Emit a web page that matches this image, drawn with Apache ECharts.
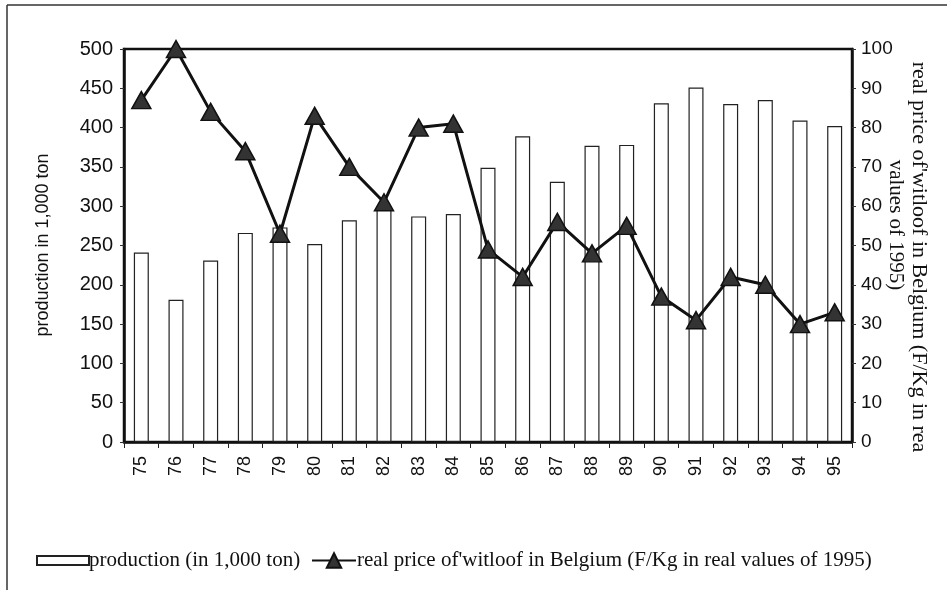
<!DOCTYPE html>
<html>
<head>
<meta charset="utf-8">
<script src="https://cdn.jsdelivr.net/npm/echarts@6/dist/echarts.min.js"></script>
<style>
html,body{margin:0;padding:0;background:#fff;}
#chart{width:947px;height:590px;}
</style>
</head>
<body>
<div id="chart"></div>
<script>
const years = ['75','76','77','78','79','80','81','82','83','84','85','86','87','88','89','90','91','92','93','94','95'];
const production = [241,181,231,266,273,252,282,298,287,290,349,389,331,377,378,431,451,430,435,409,402];
const price = [87,100,84,74,53,83,70,61,80,81,49,42,56,48,55,37,31,42,40,30,33];
const leftTicks = [0,50,100,150,200,250,300,350,400,450,500];
const rightTicks = [0,10,20,30,40,50,60,70,80,90,100];

const chart = echarts.init(document.getElementById('chart'), null, {renderer:'canvas'});
const sans = 'Liberation Sans, Arial, sans-serif';
const serif = 'Liberation Serif, Times New Roman, serif';
const barName = 'production (in 1,000 ton)';
const lineName = 'real price of\'witloof in Belgium (F/Kg in real values of 1995)';

chart.setOption({
  animation:false,
  backgroundColor:'#fff',
  grid:{left:124,right:95,top:49,bottom:148,show:true,borderColor:'#111',borderWidth:2.5,backgroundColor:'transparent'},
  legend:[
    {data:[{name:barName,icon:'rect'}],left:31,top:545,itemWidth:52,itemHeight:9,itemGap:0,
     textStyle:{fontFamily:serif,fontSize:21,color:'#111',padding:[0,0,0,-5]}},
    {data:[lineName],left:306,top:545,itemWidth:44,itemHeight:18,
     textStyle:{fontFamily:serif,fontSize:21,color:'#111',padding:[0,0,0,-4]}}
  ],
  xAxis:{type:'category',data:years,boundaryGap:true,
    axisLine:{lineStyle:{color:'#111',width:2.5}},
    axisTick:{show:true,length:6,lineStyle:{color:'#222',width:1}},
    axisLabel:{rotate:90,fontFamily:sans,fontSize:18,color:'#111',margin:14}},
  yAxis:[
    {type:'value',min:0,max:500,interval:50,position:'left',
     axisLine:{show:true,lineStyle:{color:'#111',width:2.5}},
     axisTick:{show:true,length:4,lineStyle:{color:'#333'}},
     splitLine:{show:false},
     axisLabel:{fontFamily:sans,fontSize:20,color:'#111',margin:11}},
    {type:'value',min:0,max:100,interval:10,position:'right',
     axisLine:{show:true,lineStyle:{color:'#111',width:2.5}},
     axisTick:{show:true,length:4,lineStyle:{color:'#333'}},
     splitLine:{show:false},
     axisLabel:{fontFamily:sans,fontSize:19,color:'#111',margin:9}}
  ],
  series:[
    {name:barName,type:'bar',data:production,yAxisIndex:0,barWidth:15,
     itemStyle:{color:'#fff',borderColor:'#222',borderWidth:1.2}},
    {name:lineName,type:'line',data:price,yAxisIndex:1,
     symbol:'triangle',symbolSize:[19,17],
     lineStyle:{color:'#111',width:3},
     itemStyle:{color:'#333',borderColor:'#111',borderWidth:1.5}}
  ],
  graphic:[
    {type:'line',shape:{x1:7,y1:5,x2:947,y2:5},style:{stroke:'#333',lineWidth:1.5}},
    {type:'line',shape:{x1:7,y1:5,x2:7,y2:590},style:{stroke:'#333',lineWidth:1.5}},
    {type:'text',x:43,y:245,rotation:Math.PI/2,
     style:{text:'production in 1,000 ton',fontFamily:sans,fontSize:18,fill:'#111',align:'center',verticalAlign:'middle'}},
    {type:'text',x:919,y:257,rotation:-Math.PI/2,
     style:{text:'real price of\'witloof in Belgium (F/Kg in rea',fontFamily:serif,fontSize:22,fill:'#111',align:'center',verticalAlign:'middle'}},
    {type:'text',x:896,y:225,rotation:-Math.PI/2,
     style:{text:'values of 1995)',fontFamily:serif,fontSize:21,fill:'#111',align:'center',verticalAlign:'middle'}}
  ]
});
</script>
</body>
</html>
